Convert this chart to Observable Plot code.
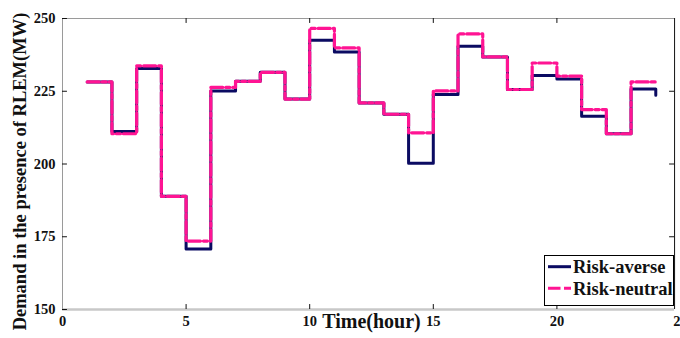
<!DOCTYPE html>
<html>
<head>
<meta charset="utf-8">
<script src="https://cdn.jsdelivr.net/npm/d3@7"></script>
<script src="https://cdn.jsdelivr.net/npm/@observablehq/plot@0.6"></script>
<style>
  html, body { margin: 0; padding: 0; background: #fff; overflow: hidden; }
  #wrap { position: relative; width: 680px; height: 338px; }
  #legend { position: absolute; left: 544px; top: 255px; }
</style>
</head>
<body>
<div id="wrap"></div>
<script>
// ---- data ----
const hours = [1,2,3,4,5,6,7,8,9,10,11,12,13,14,15,16,17,18,19,20,21,22,23,24];
const riskAverse = [228.2,211.2,232.8,188.9,170.8,225.1,228.4,231.5,222.3,242.5,238.5,221.0,
                    217.1,200.3,223.9,240.5,236.8,225.6,230.4,229.2,216.4,210.4,225.8,223.6];
const riskNeutral = [228.2,210.4,233.7,188.9,173.5,226.3,228.4,231.5,222.3,246.6,239.9,221.0,
                     217.1,210.7,225.1,244.7,236.8,225.6,234.7,230.2,218.7,210.4,228.2,227.5];
const seriesNames = ["Risk-averse", "Risk-neutral"];
const xTicks = [0,5,10,15,20,25];
const yTicks = [150,175,200,225,250];
const xLimits = [0, 24.76];
const yLimits = [150, 250];
const xLabel = "Time(hour)";
const yLabel = "Demand in the presence of RLEM(MW)";

const colors = {averse: "#0b0b62", neutral: "#ff1493"};
const serif = "'Liberation Serif', 'Times New Roman', serif";

const averseData = hours.map((h, i) => ({h, v: riskAverse[i]}));
const neutralData = hours.map((h, i) => ({h, v: riskNeutral[i]}));
const innerX = xTicks.filter(t => t > xLimits[0] && t < xLimits[1]);
const innerY = yTicks.filter(t => t > yLimits[0] && t < yLimits[1]);

const chart = Plot.plot({
  width: 680,
  height: 338,
  marginLeft: 62,
  marginRight: 0,
  marginTop: 18,
  marginBottom: 29,
  x: {domain: [0, 25], ticks: xTicks},
  y: {domain: yLimits, ticks: yTicks},
  style: {fontFamily: serif, fontWeight: "bold", fontSize: "14.5px", color: "#111", background: "#fff", overflow: "hidden"},
  marks: [
    // box
    Plot.ruleY([yLimits[1]], {x1: xLimits[0], x2: xLimits[1], stroke: "#9a9a9a", strokeWidth: 1}),
    Plot.ruleY([yLimits[0]], {x1: xLimits[0], x2: xLimits[1], stroke: "#c8c8c8", strokeWidth: 2.5}),
    Plot.ruleX([xLimits[0]], {y1: yLimits[0], y2: yLimits[1], stroke: "#9a9a9a", strokeWidth: 1}),
    Plot.ruleX([xLimits[1]], {y1: yLimits[0], y2: yLimits[1], stroke: "#111", strokeWidth: 1}),
    // inward ticks
    Plot.ruleX(innerX, {x: d => d, y1: yLimits[0], y2: yLimits[0] + 1.7, stroke: "#111"}),
    Plot.ruleX(innerX, {x: d => d, y1: yLimits[1], y2: yLimits[1] - 1.7, stroke: "#111"}),
    Plot.ruleY(yTicks, {y: d => d, x1: xLimits[0], x2: xLimits[0] + 0.2, stroke: "#111"}),
    Plot.ruleY(innerY, {y: d => d, x1: xLimits[1], x2: xLimits[1] - 0.2, stroke: "#111"}),
    // tick labels
    Plot.axisX({ticks: xTicks, tickSize: 0, tickPadding: 6.5, label: null, fontSize: 14.5, fontWeight: "bold", fontFamily: serif}),
    Plot.axisY({ticks: yTicks, tickSize: 0, tickPadding: 7, label: null, fontSize: 14.5, fontWeight: "bold", fontFamily: serif}),
    // series
    Plot.line(averseData, {x: "h", y: "v", curve: "step-after", stroke: colors.averse, strokeWidth: 3}),
    Plot.line(neutralData, {x: "h", y: "v", curve: "step-after", stroke: colors.neutral, strokeWidth: 3.2, strokeDasharray: "12,3,4,3"}),
    // axis titles
    Plot.text([xLabel], {text: d => d, frameAnchor: "bottom", dy: 18, textAnchor: "middle", fontSize: 20, fontWeight: "bold", fontFamily: serif, fill: "#111"}),
    Plot.text([yLabel], {text: d => d, frameAnchor: "left", dx: -42, dy: 7.5, rotate: -90, textAnchor: "middle", fontSize: 18.5, fontWeight: "bold", fontFamily: serif, fill: "#111"})
  ]
});

const wrap = document.getElementById("wrap");
wrap.appendChild(chart);

// legend box inside the axes, top-right of the x axis
const legendStyles = [
  {color: colors.averse, dash: null},
  {color: colors.neutral, dash: "12.5,3.5,7,0"}
];
const lg = d3.create("svg").attr("id", "legend").attr("width", 130).attr("height", 51);
lg.append("rect").attr("x", 0.5).attr("y", 0.5).attr("width", 129).attr("height", 50)
  .attr("fill", "#fff").attr("stroke", "#000").attr("stroke-width", 1);
seriesNames.forEach((name, i) => {
  const cy = 11.7 + i * 21.6;
  const ln = lg.append("line").attr("x1", 4).attr("x2", 27).attr("y1", cy).attr("y2", cy)
    .attr("stroke", legendStyles[i].color).attr("stroke-width", 3);
  if (legendStyles[i].dash) ln.attr("stroke-dasharray", legendStyles[i].dash);
  lg.append("text").attr("x", 29).attr("y", cy + 6.6).text(name)
    .attr("font-family", serif).attr("font-weight", "bold").attr("font-size", 18.5).attr("fill", "#111");
});
wrap.appendChild(lg.node());
</script>
</body>
</html>
